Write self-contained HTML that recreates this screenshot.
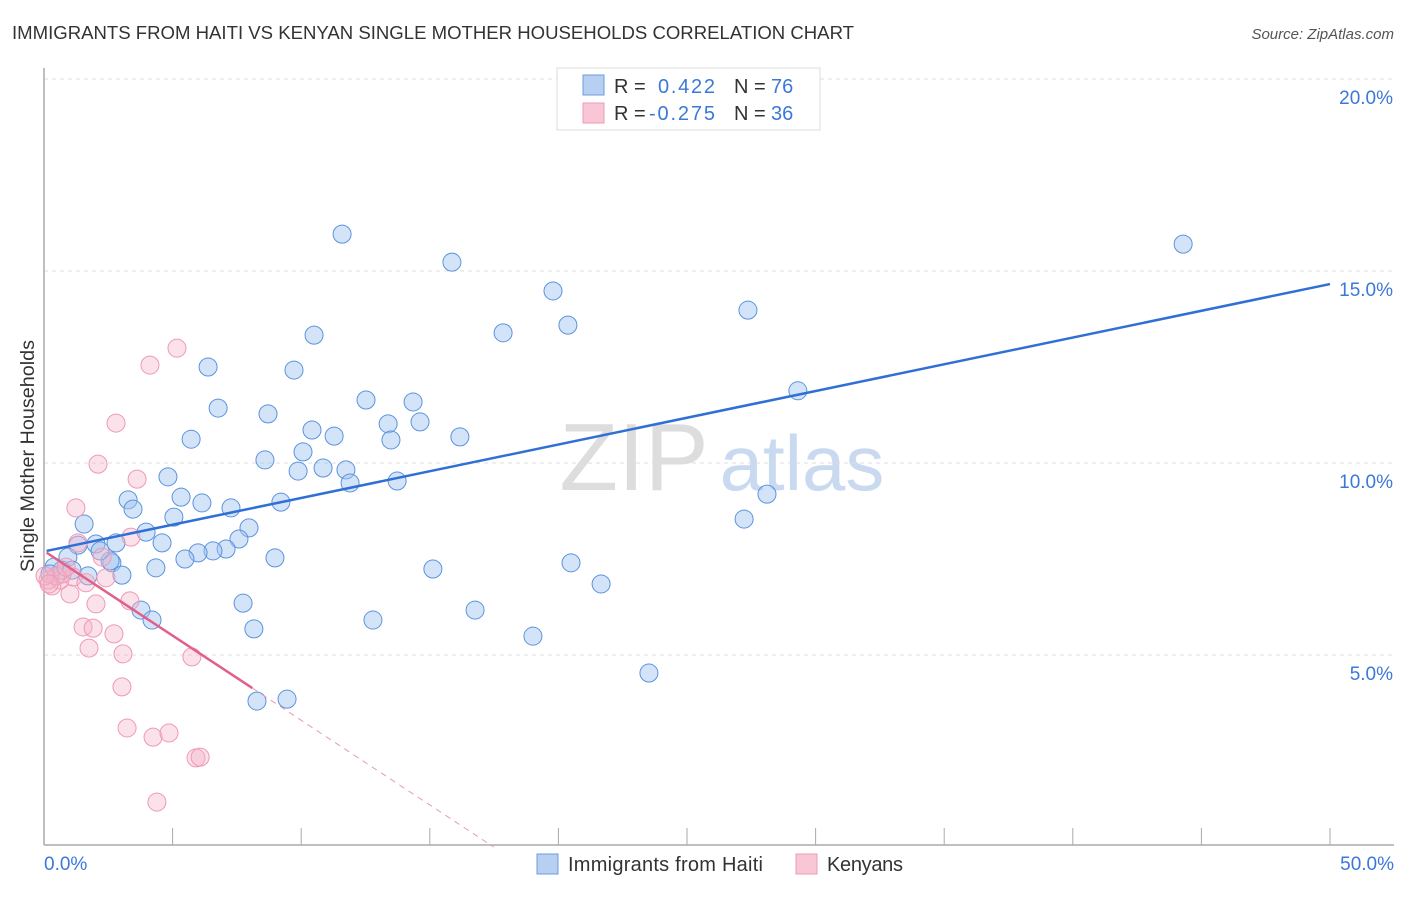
<!DOCTYPE html>
<html><head><meta charset="utf-8"><style>
body{margin:0;background:#fff;font-family:"Liberation Sans",sans-serif;}
svg text{font-family:"Liberation Sans",sans-serif;}
</style></head><body>
<svg id="chart" width="1406" height="892" xmlns="http://www.w3.org/2000/svg">
<text x="12" y="39" font-size="18.5" fill="#333" textLength="842" lengthAdjust="spacingAndGlyphs">IMMIGRANTS FROM HAITI VS KENYAN SINGLE MOTHER HOUSEHOLDS CORRELATION CHART</text>
<text x="1394" y="39" font-size="15" fill="#555" font-style="italic" text-anchor="end">Source: ZipAtlas.com</text>
<g>
<text x="634" y="490" font-size="96" fill="#ddd" font-family="Liberation Serif" text-anchor="middle">ZIP</text>
<text x="802" y="490" font-size="78" fill="#c9d9ef" text-anchor="middle">atlas</text>
</g>
<g id="grid"></g>
<g id="axes"></g>
<g id="pts"></g>
<g id="lines"></g>
<text transform="translate(34,456) rotate(-90)" font-size="19" fill="#333" text-anchor="middle" textLength="232" lengthAdjust="spacingAndGlyphs">Single Mother Households</text>
<g>
<rect x="557" y="68" width="263" height="62" fill="#fff" stroke="#ddd"/>
<rect x="583" y="75" width="21" height="20" fill="#b7d0f2" stroke="#6a9be0"/>
<rect x="583" y="103" width="21" height="20" fill="#f9c6d5" stroke="#ee9ab4"/>
<text x="614" y="93" font-size="20" fill="#333">R = </text><text x="658" y="93" font-size="20" fill="#3b78d8" textLength="57">0.422</text>
<text x="734" y="93" font-size="20" fill="#333">N = </text><text x="771" y="93" font-size="20" fill="#3b78d8">76</text>
<text x="614" y="120" font-size="20" fill="#333">R = </text><text x="649" y="120" font-size="20" fill="#3b78d8" textLength="66">-0.275</text>
<text x="734" y="120" font-size="20" fill="#333">N = </text><text x="771" y="120" font-size="20" fill="#3b78d8">36</text>
</g>
<g>
<rect x="537" y="854" width="21" height="20" fill="#b7d0f2" stroke="#6a9be0"/>
<text x="568" y="871" font-size="20" fill="#333" textLength="195">Immigrants from Haiti</text>
<rect x="796" y="854" width="21" height="20" fill="#f9c6d5" stroke="#ee9ab4"/>
<text x="827" y="871" font-size="20" fill="#333" textLength="76">Kenyans</text>
</g>
</svg>
<script>
const xTicks=[0,5,10,15,20,25,30,35,40,45,50];
const yTicks=[5,10,15,20];
const haitiX=[11.59,15.86,44.29,19.79,20.37,27.37,10.50,17.85,6.38,9.72,29.31,12.52,14.35,6.77,8.71,13.38,14.62,10.42,11.28,5.72,13.49,16.17,10.07,8.59,9.88,10.85,11.74,4.82,11.90,13.73,5.33,28.11,3.27,6.14,9.21,7.27,3.46,5.05,27.22,1.56,7.97,3.97,7.58,2.02,2.80,4.59,1.32,7.08,6.57,5.99,5.48,8.98,0.93,2.64,4.35,15.12,20.49,3.03,1.71,0.70,21.66,0.39,7.74,16.76,3.77,4.20,12.79,8.16,19.01,23.52,8.28,9.45,0.23,1.09,2.57,2.18];
const haitiY=[15.96,15.23,15.70,14.48,13.59,13.98,13.33,13.39,12.50,12.42,11.88,11.64,11.59,11.43,11.28,11.02,11.07,10.86,10.70,10.62,10.60,10.68,10.29,10.08,9.79,9.87,9.82,9.64,9.48,9.53,9.11,9.19,9.04,8.96,8.98,8.83,8.80,8.59,8.54,8.41,8.31,8.20,8.02,7.89,7.92,7.92,7.86,7.76,7.71,7.66,7.50,7.53,7.55,7.40,7.27,7.24,7.40,7.08,7.06,7.21,6.85,7.29,6.35,6.17,6.17,5.91,5.91,5.68,5.49,4.53,3.80,3.85,7.11,7.21,7.45,7.71];
const kenyaX=[5.17,4.12,2.80,2.10,3.62,1.24,3.38,1.32,2.26,1.13,1.01,2.02,3.34,1.52,1.91,2.72,1.75,3.07,5.75,3.03,3.23,4.24,4.86,5.91,6.07,4.39,1.63,0.62,0.31,0.16,0.70,0.47,2.41,0.86,0.04,0.2];
const kenyaY=[12.99,12.55,11.04,9.97,9.58,8.83,8.07,7.92,7.55,7.03,6.59,6.33,6.41,5.73,5.70,5.55,5.18,5.03,4.95,4.17,3.10,2.86,2.97,2.32,2.34,1.17,6.88,6.95,6.80,6.95,7.11,7.06,7.01,7.29,7.06,6.85];
const haitiTrend=[7.71,14.66];
const kenyaTrend=[7.71,-0.441];
const NS="http://www.w3.org/2000/svg";
const sx=v=>44+v*1286/50, sy=v=>847-v*38.4;
function mk(tag,attrs,parent){const e=document.createElementNS(NS,tag);for(const k in attrs)e.setAttribute(k,attrs[k]);parent.appendChild(e);return e;}
const grid=document.getElementById('grid'),axes=document.getElementById('axes'),pts=document.getElementById('pts'),lines=document.getElementById('lines');
yTicks.forEach(t=>{
 const l=mk('line',{x1:44,x2:1394,y1:sy(t),y2:sy(t),stroke:'#ddd','stroke-dasharray':'4,4'},grid);
 
 
 const tx=mk('text',{x:1393,y:sy(t)+25,'font-size':19,fill:'#3b78d8','text-anchor':'end'},axes);
 tx.textContent=t.toFixed(1)+'%';
 
 
});
const ya=mk('line',{x1:44,x2:44,y1:68,y2:845,stroke:'#aaa','stroke-width':1.5},axes);


const xa=mk('line',{x1:44,x2:1394,y1:845,y2:845,stroke:'#aaa','stroke-width':1.5},axes);


xTicks.forEach(t=>{
 const l=mk('line',{x1:sx(t),x2:sx(t),y1:828,y2:845,stroke:'#aaa'},axes);
 
 
});
[[0,44,'start'],[50,1394,'end']].forEach(([t,x,a])=>{
 const tx=mk('text',{x:x,y:870,'font-size':19,fill:'#3b78d8','text-anchor':a},axes);
 tx.textContent=t.toFixed(1)+'%';
 
 
});
haitiX.forEach((x,i)=>{
 const c=mk('circle',{cx:sx(x),cy:sy(haitiY[i]),r:9,fill:'rgba(160,195,240,0.45)',stroke:'#5b93dd','stroke-width':1},pts);
 
 
});
kenyaX.forEach((x,i)=>{
 const c=mk('circle',{cx:sx(x),cy:sy(kenyaY[i]),r:9,fill:'rgba(246,180,200,0.4)',stroke:'#ef99b5','stroke-width':1},pts);
 
 
});
const bl=mk('line',{x1:sx(0.1),y1:sy(haitiTrend[0]),x2:sx(50),y2:sy(haitiTrend[1]),stroke:'#2f6fd6','stroke-width':2.5},lines);


const kf=x=>kenyaTrend[0]+kenyaTrend[1]*x;
const pl=mk('line',{x1:sx(0.1),y1:sy(kf(0.1)),x2:sx(8.1),y2:sy(kf(8.1)),stroke:'#e0608a','stroke-width':2.5},lines);


const xe=kenyaTrend[0]/-kenyaTrend[1];
const pd=mk('line',{x1:sx(8.1),y1:sy(kf(8.1)),x2:sx(xe),y2:sy(0),stroke:'#e89ab3','stroke-width':1,'stroke-dasharray':'6,5'},lines);


</script>
</body></html>
